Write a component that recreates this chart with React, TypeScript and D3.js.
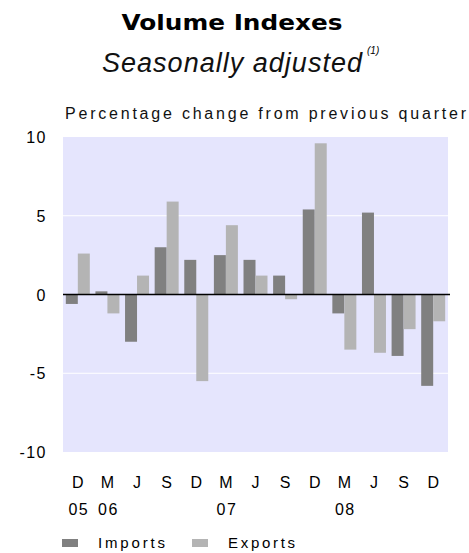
import React, { useEffect, useRef } from 'react';
import * as d3 from 'd3';

const quarters = ['D', 'M', 'J', 'S', 'D', 'M', 'J', 'S', 'D', 'M', 'J', 'S', 'D'];
const years = ['05', '06', '', '', '', '07', '', '', '', '08', '', '', ''];
const imports = [-0.6, 0.2, -3.0, 3.0, 2.2, 2.5, 2.2, 1.2, 5.4, -1.2, 5.2, -3.9, -5.8];
const exports = [2.6, -1.2, 1.2, 5.9, -5.5, 4.4, 1.2, -0.3, 9.6, -3.5, -3.7, -2.2, -1.7];
const yTicks = [10, 5, 0, -5, -10];
const seriesNames = ['Imports', 'Exports'];
const seriesColors = ['#808080', '#b4b4b4'];

const App = () => {
    const ref = useRef(null);

    useEffect(() => {
        if (!ref.current) return;
        const svg = d3.select(ref.current);
        svg.selectAll('*').remove();

        const W = 469, H = 553;
        const left = 63, right = 448, top = 137, bottom = 452;
        const font = 'Liberation Sans, Arial, sans-serif';

        svg.attr('width', W).attr('height', H);

        // Titles
        svg.append('text')
            .attr('x', 232).attr('y', 30)
            .attr('text-anchor', 'middle')
            .attr('textLength', 221).attr('lengthAdjust', 'spacingAndGlyphs')
            .style('font-family', 'DejaVu Sans, Verdana, sans-serif')
            .style('font-weight', 'bold').style('font-size', '21px')
            .text('Volume Indexes');
        svg.append('text')
            .attr('x', 102).attr('y', 72)
            .attr('textLength', 260).attr('lengthAdjust', 'spacing')
            .style('font-family', font).style('font-style', 'italic').style('font-size', '27px')
            .style('fill', '#111')
            .text('Seasonally adjusted');
        svg.append('text')
            .attr('x', 367).attr('y', 54)
            .style('font-family', font).style('font-style', 'italic').style('font-size', '10px')
            .text('(1)');
        svg.append('text')
            .attr('x', 65).attr('y', 119)
            .attr('textLength', 401).attr('lengthAdjust', 'spacing')
            .style('font-family', font).style('font-size', '16px')
            .style('fill', '#111')
            .text('Percentage change from previous quarter');

        // Scales
        const x = d3.scaleBand()
            .domain(d3.range(quarters.length))
            .range([left, right])
            .paddingInner(0.19)
            .paddingOuter(0.095);
        const xs = d3.scaleBand().domain(seriesNames).range([0, x.bandwidth()]);
        const y = d3.scaleLinear().domain([-10, 10]).range([bottom, top]);

        svg.append('rect')
            .attr('x', left).attr('y', top)
            .attr('width', right - left).attr('height', bottom - top)
            .style('fill', '#e5e5fd');

        // Grid
        svg.selectAll('.grid')
            .data(yTicks.filter(d => d !== 0 && Math.abs(d) < 10))
            .enter().append('line')
            .attr('x1', left).attr('x2', right)
            .attr('y1', d => y(d)).attr('y2', d => y(d))
            .style('stroke', '#fff').style('stroke-width', 1);

        // Y labels
        svg.selectAll('.ytick')
            .data(yTicks)
            .enter().append('text')
            .attr('x', 47).attr('y', d => y(d) + 6)
            .attr('text-anchor', 'end')
            .style('font-family', font).style('font-size', '16px')
            .style('letter-spacing', '1.5px')
            .text(d => d);

        // Bars
        [imports, exports].forEach((vals, si) => {
            svg.selectAll('.bar' + si)
                .data(vals)
                .enter().append('rect')
                .attr('x', (d, i) => x(i) + xs(seriesNames[si]))
                .attr('y', d => y(Math.max(0, d)))
                .attr('width', xs.bandwidth())
                .attr('height', d => Math.abs(y(d) - y(0)))
                .style('fill', seriesColors[si]);
        });

        // Zero line
        svg.append('line')
            .attr('x1', left).attr('x2', right + 2)
            .attr('y1', y(0)).attr('y2', y(0))
            .style('stroke', '#000').style('stroke-width', 1.5);

        // X labels
        svg.selectAll('.q')
            .data(quarters)
            .enter().append('text')
            .attr('x', (d, i) => x(i) + x.bandwidth() / 2)
            .attr('y', 488)
            .attr('text-anchor', 'middle')
            .style('font-family', font).style('font-size', '16px')
            .text(d => d);
        svg.selectAll('.yr')
            .data(years)
            .enter().append('text')
            .attr('x', (d, i) => x(i) + x.bandwidth() / 2 + 1)
            .attr('y', 515)
            .attr('text-anchor', 'middle')
            .style('font-family', font).style('font-size', '16px')
            .style('letter-spacing', '1.5px')
            .text(d => d);

        // Legend
        const legendX = [62, 192];
        seriesNames.forEach((name, i) => {
            svg.append('rect')
                .attr('x', legendX[i]).attr('y', 539)
                .attr('width', 16).attr('height', 8)
                .style('fill', seriesColors[i]);
            svg.append('text')
                .attr('x', legendX[i] + 36).attr('y', 548)
                .attr('textLength', 67).attr('lengthAdjust', 'spacing')
                .style('font-family', font).style('font-size', '15px')
                .text(name);
        });
    }, []);

    return (
        <div style={{ position: 'absolute', left: 0, top: 0 }}>
            <svg ref={ref} style={{ display: 'block' }} />
        </div>
    );
};

export default App;
